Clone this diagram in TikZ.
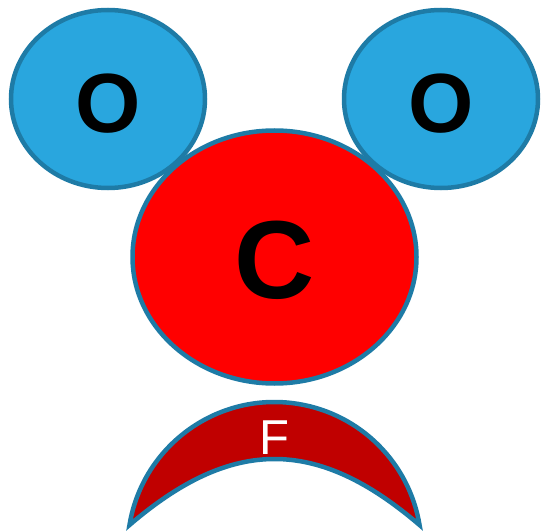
\documentclass[tikz,border=0pt]{standalone}
\usepackage{fontspec}
\setmainfont{Liberation Sans}
\usetikzlibrary{shapes.geometric}
\definecolor{oblue}{HTML}{29A6DE}
\definecolor{edgeblue}{HTML}{1E7BA6}
\definecolor{cred}{HTML}{FF0000}
\definecolor{fred}{HTML}{C00000}
\begin{document}
\begin{tikzpicture}[x=1pt,y=-1pt,
  atom/.style={ellipse, draw=edgeblue, line width=4.5pt, inner sep=0pt},
  oatom/.style={atom, fill=oblue, minimum width=194pt, minimum height=178pt},
  catom/.style={atom, fill=cred, minimum width=284pt, minimum height=253pt},
  lbl/.style={inner sep=0pt, anchor=center}]
\useasboundingbox (0,0) rectangle (541,532);
\node[catom] (c) at (274.5,257) {};
\node[oatom] (o1) at (108,99) {};
\node[oatom] (o2) at (441,99) {};
\node[lbl] (tc) at (274.5,260) {\fontsize{111}{111}\selectfont\bfseries C};
\node[lbl] (to1) at (108,104) {\fontsize{84}{84}\selectfont\bfseries O};
\node[lbl] (to2) at (441,104) {\fontsize{84}{84}\selectfont\bfseries O};
\draw[fill=fred, draw=edgeblue, line width=4.5pt, line join=miter, miter limit=20]
  (129.5,525) arc[start angle=189.4, end angle=350.6, radius=147]
  .. controls (317,437) and (232,437) .. (129.5,525) -- cycle;
\node[lbl, text=white] (tf) at (274,437.5) {\fontsize{49}{49}\selectfont F};
\end{tikzpicture}
\end{document}
